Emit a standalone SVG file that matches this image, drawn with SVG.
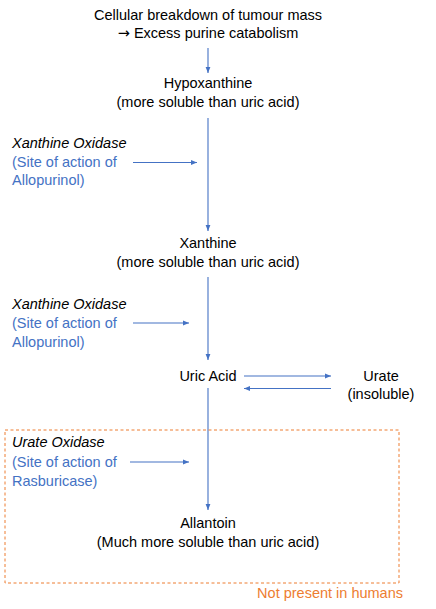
<svg xmlns="http://www.w3.org/2000/svg" width="436" height="609" viewBox="0 0 436 609">
<defs>
<style>
text{font-family:"Liberation Sans",Arial,sans-serif;font-size:14.5px;fill:#000}
.c{text-anchor:middle}
.b{fill:#4472C4}
.i{font-style:italic}
.o{fill:#ED7D31}
.ar{font-family:"DejaVu Sans",sans-serif}
.ln{stroke:#4472C4;stroke-width:1.1;fill:none;marker-end:url(#ah)}
</style>
<marker id="ah" viewBox="0 0 10 10" refX="10" refY="5" markerWidth="6" markerHeight="6" markerUnits="userSpaceOnUse" orient="auto">
<path d="M0,1 L10,5 L0,9 Z" fill="#4472C4"/>
</marker>
</defs>
<rect width="436" height="609" fill="#fff"/>
<g id="connectors">
<line class="ln" x1="208" y1="48" x2="208" y2="73"/>
<line class="ln" x1="208" y1="118" x2="208" y2="231"/>
<line class="ln" x1="133" y1="162.5" x2="197" y2="162.5"/>
<line class="ln" x1="208" y1="277" x2="208" y2="360"/>
<line class="ln" x1="133" y1="323" x2="189" y2="323"/>
<line class="ln" x1="244" y1="376" x2="331" y2="376"/>
<line class="ln" x1="331" y1="388.5" x2="244" y2="388.5"/>
<line class="ln" x1="208" y1="388" x2="208" y2="510"/>
<line class="ln" x1="130" y1="462" x2="189" y2="462"/>
</g>
<g id="start">
<text class="c" x="208" y="19.5">Cellular breakdown of tumour mass</text>
<text class="c" x="208" y="37.5"><tspan class="ar">→</tspan> Excess purine catabolism</text>
</g>
<g id="hypoxanthine">
<text class="c" x="208" y="88">Hypoxanthine</text>
<text class="c" x="208" y="106.5">(more soluble than uric acid)</text>
</g>
<g id="xo1">
<text class="i" x="12" y="147.5">Xanthine Oxidase</text>
<text class="b" x="12" y="166.5">(Site of action of</text>
<text class="b" x="12" y="185">Allopurinol)</text>
</g>
<g id="xanthine">
<text class="c" x="208" y="248">Xanthine</text>
<text class="c" x="208" y="267">(more soluble than uric acid)</text>
</g>
<g id="xo2">
<text class="i" x="12" y="309">Xanthine Oxidase</text>
<text class="b" x="12" y="328">(Site of action of</text>
<text class="b" x="12" y="347">Allopurinol)</text>
</g>
<g id="uricacid">
<text class="c" x="208" y="380.5">Uric Acid</text>
</g>
<g id="urate">
<text class="c" x="381" y="380.5">Urate</text>
<text class="c" x="381" y="398.5">(insoluble)</text>
</g>
<g id="notpresent">
<rect x="5" y="430" width="394" height="153" fill="none" stroke="#ED7D31" stroke-width="1" stroke-dasharray="3,2.5"/>
<text class="o" x="403" y="597.5" text-anchor="end">Not present in humans</text>
</g>
<g id="uo">
<text class="i" x="12" y="447">Urate Oxidase</text>
<text class="b" x="12" y="467">(Site of action of</text>
<text class="b" x="12" y="485.5">Rasburicase)</text>
</g>
<g id="allantoin">
<text class="c" x="208" y="527.5">Allantoin</text>
<text class="c" x="208" y="546.5">(Much more soluble than uric acid)</text>
</g>
</svg>
